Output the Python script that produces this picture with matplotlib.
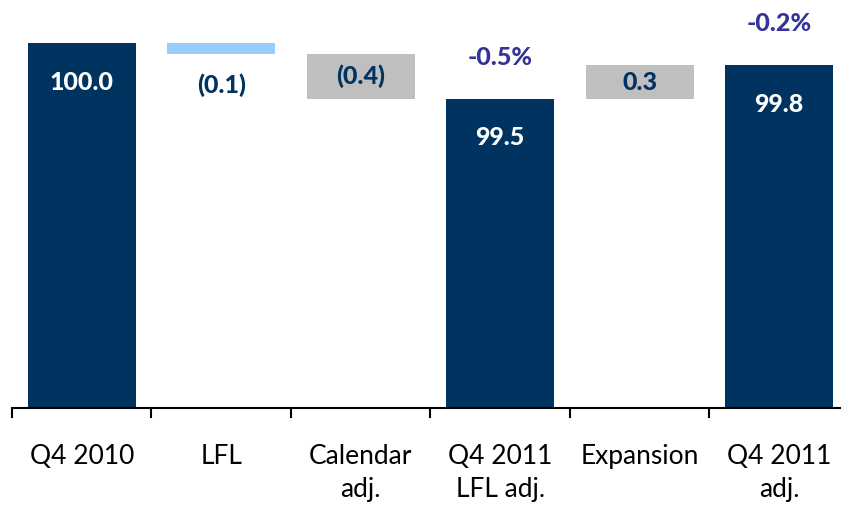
import matplotlib.pyplot as plt
import numpy as np

plt.rcParams['font.family'] = ['Lato', 'DejaVu Sans']

categories = ['Q4 2010', 'LFL', 'Calendar\nadj.', 'Q4 2011\nLFL adj.', 'Expansion', 'Q4 2011\nadj.']
kinds = ['total', 'delta', 'delta', 'total', 'delta', 'total']
values = [100.0, -0.1, -0.4, 99.5, 0.3, 99.8]
labels = ['100.0', '(0.1)', '(0.4)', '99.5', '0.3', '99.8']
pct_labels = [None, None, None, '-0.5%', None, '-0.2%']

navy = '#00335F'
light_blue = '#99CCFF'
grey = '#BFBFBF'
purple = '#333399'

fig = plt.figure(figsize=(8.41, 5.05), dpi=100)
ax = fig.add_axes([12 / 841, 97 / 505, 837 / 841, 408 / 505])

x = np.arange(len(categories))
width = 0.775
base = 96.71
level = 0.0
for i, (kind, v) in enumerate(zip(kinds, values)):
    if kind == 'total':
        level = v
        ax.bar(x[i], v - base, bottom=base, width=width, color=navy)
        ax.annotate(labels[i], (x[i], v), xytext=(0, -28), textcoords='offset points',
                    ha='center', va='center', color='white', fontsize=18, fontweight='black')
        if pct_labels[i]:
            ax.annotate(pct_labels[i], (x[i], v), xytext=(0, 30), textcoords='offset points',
                        ha='center', va='center', color=purple, fontsize=18, fontweight='black')
    else:
        start = level
        level = level + v
        lo, hi = min(start, level), max(start, level)
        color = light_blue if abs(v) < 0.2 else grey
        ax.bar(x[i], hi - lo, bottom=lo, width=width, color=color)
        if abs(v) < 0.2:
            ax.annotate(labels[i], (x[i], lo), xytext=(0, -22), textcoords='offset points',
                        ha='center', va='center', color=navy, fontsize=18, fontweight='black')
        else:
            ax.text(x[i], (lo + hi) / 2, labels[i], ha='center', va='center',
                    color=navy, fontsize=18, fontweight='black')

ax.set_xlim(-0.5, len(categories) - 0.5)
ax.set_ylim(base, 100.39)
ax.set_yticks([])
for s in ['top', 'right', 'left']:
    ax.spines[s].set_visible(False)
ax.spines['bottom'].set_linewidth(1.5)

ax.set_xticks(np.arange(len(categories) + 1) - 0.5)
ax.set_xticklabels([])
ax.tick_params(axis='x', direction='out', length=7, width=1.5)
ax.set_xticks(x, minor=True)
ax.set_xticklabels(categories, minor=True, fontsize=19, linespacing=1.4, va='top')
ax.tick_params(axis='x', which='minor', length=0, pad=26)

fig.savefig('out.png', dpi=100)
